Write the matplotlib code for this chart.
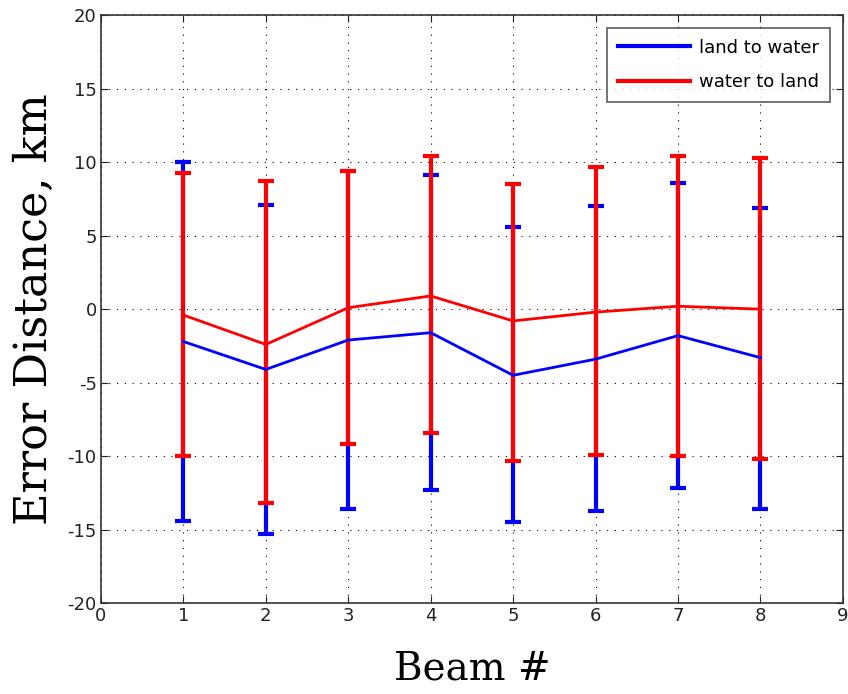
import matplotlib

matplotlib.use("Agg")
import matplotlib.pyplot as plt
from matplotlib.lines import Line2D
import numpy as np

plt.rcParams["axes.unicode_minus"] = False

beams = [1, 2, 3, 4, 5, 6, 7, 8]

# land to water
ltw_mean = [-2.2, -4.1, -2.1, -1.6, -4.5, -3.4, -1.8, -3.3]
ltw_upper = [10.0, 7.1, 9.4, 9.1, 5.6, 7.0, 8.6, 6.9]
ltw_lower = [-14.4, -15.3, -13.6, -12.3, -14.5, -13.7, -12.2, -13.6]

# water to land
wtl_mean = [-0.4, -2.4, 0.1, 0.9, -0.8, -0.2, 0.2, 0.0]
wtl_upper = [9.3, 8.7, 9.4, 10.4, 8.5, 9.7, 10.4, 10.3]
wtl_lower = [-10.0, -13.2, -9.2, -8.4, -10.3, -9.9, -10.0, -10.2]

fig = plt.figure(figsize=(8.48, 6.94), dpi=100)
ax = fig.add_axes([0.119, 0.131, 0.875, 0.847])


def draw(mean, upper, lower, color):
    mean = np.array(mean)
    yerr = [mean - np.array(lower), np.array(upper) - mean]
    ax.errorbar(
        beams, mean, yerr=yerr, color=color, linewidth=2,
        elinewidth=3, capsize=6, capthick=3, zorder=3,
    )


draw(ltw_mean, ltw_upper, ltw_lower, "#0000ff")
draw(wtl_mean, wtl_upper, wtl_lower, "#ff0000")

ax.set_xlim(0, 9)
ax.set_ylim(-20, 20)
ax.set_xticks(range(0, 10))
ax.set_yticks(range(-20, 21, 5))
ax.grid(True, color="black", linestyle=(0, (1, 6)), linewidth=0.8)
ax.tick_params(direction="in", top=True, right=True, length=5, labelsize=13,
               colors="#222222", pad=3)
for s in ax.spines.values():
    s.set_color("#333333")
    s.set_linewidth(1.2)

ax.set_xlabel("Beam #", fontsize=28, family="DejaVu Serif", labelpad=18)
ax.set_ylabel("Error Distance, km", fontsize=32, family="DejaVu Serif", labelpad=8)

handles = [
    Line2D([], [], color="#0000ff", linewidth=3),
    Line2D([], [], color="#ff0000", linewidth=3),
]
leg = ax.legend(handles, ["land to water", "water to land"], loc="upper right",
                fontsize=13, frameon=True, fancybox=False, edgecolor="#333333",
                handlelength=4.0, borderaxespad=0.7, labelspacing=0.9,
                borderpad=0.6, handletextpad=0.5)
leg.get_frame().set_linewidth(1.2)

fig.savefig("out.png", dpi=100)
